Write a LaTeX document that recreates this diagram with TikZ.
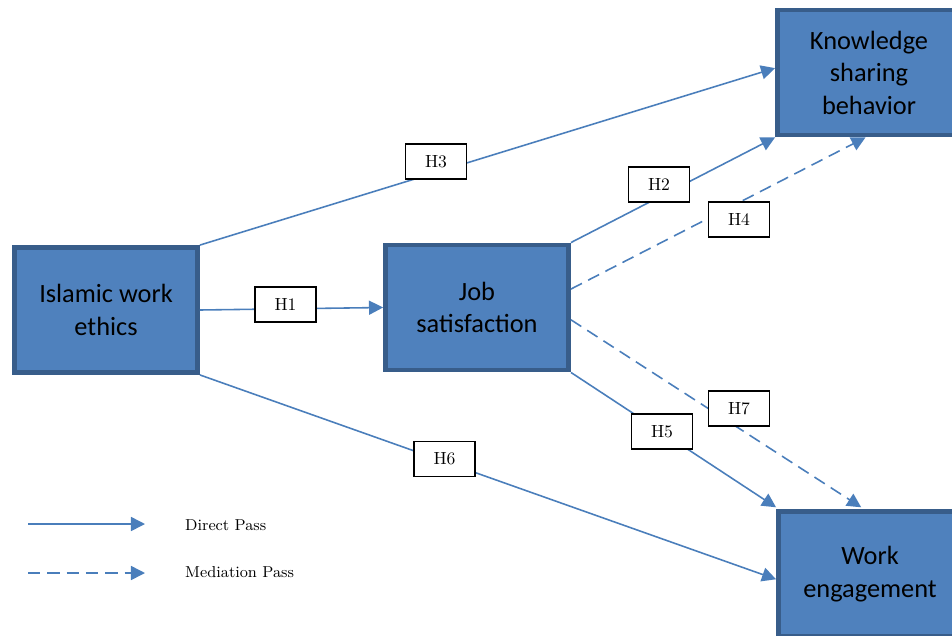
\documentclass[tikz,border=0pt]{standalone}
\usepackage{fontspec}
\usepackage{xcolor}
\usepackage{tikz}
\usetikzlibrary{arrows.meta,positioning,calc}
\newfontfamily\boxfont{Carlito}
\definecolor{boxfill}{HTML}{4F81BD}
\definecolor{boxedge}{HTML}{385D8A}
\definecolor{pathcol}{HTML}{4A7EBB}

\begin{document}
\begin{tikzpicture}[
  x=0.02cm, y=-0.02cm,
  construct/.style={
    draw=boxedge,
    line width=2.8pt,
    fill=boxfill,
    minimum width=3.66cm,
    minimum height=2.5cm,
    align=center,
    font=\boxfont\fontsize{15}{18.5}\selectfont
  },
  hyp/.style={
    draw=black,
    line width=0.7pt,
    fill=white,
    minimum width=1.22cm,
    minimum height=0.7cm,
    font=\fontsize{10}{12}\selectfont
  },
  direct/.style={
    draw=pathcol,
    line width=0.9pt,
    -{Triangle[length=8pt,width=8pt]}
  },
  mediation/.style={
    direct,
    dash pattern=on 7pt off 4pt
  },
  legendtext/.style={
    anchor=west,
    font=\fontsize{9}{11}\selectfont
  }
]
\useasboundingbox (0,0) rectangle (952,635);

%---------------------------------
% Constructs
%---------------------------------
\begin{scope}
\clip (0,0) rectangle (952,635);
\node[construct] (iwe) at (106,310)   {Islamic work\\ethics};
\node[construct] (js)  at (477,307.5) {Job\\satisfaction};
\node[construct] (ksb) at (869,72.5)  {Knowledge\\sharing\\behavior};
\node[construct] (we)  at (870,574)   {Work\\engagement};
\end{scope}

%---------------------------------
% Paths
%---------------------------------
\draw[direct] (iwe.north east) -- ([yshift=2.5pt]ksb.west);
\draw[direct] (iwe.east) -- (js.west);
\draw[direct] (iwe.south east) -- ([yshift=-3pt]we.west);
\draw[direct] (js.north east) -- (ksb.south west);
\draw[mediation] ([yshift=10.5pt]js.east) -- ([xshift=-2pt]ksb.south);
\draw[mediation] ([yshift=-7pt]js.east) -- ([xshift=-5pt,yshift=1pt]we.north);
\draw[direct] (js.south east) -- ([yshift=1pt]we.north west);

%---------------------------------
% Hypothesis labels
%---------------------------------
\node[hyp] (h1) at (285.5,304.5) {H1};
\node[hyp] (h3) at (436,161.5)   {H3};
\node[hyp] (h6) at (444.5,459)   {H6};
\node[hyp] (h2) at (659,184.5)   {H2};
\node[hyp] (h4) at (739,219.5)   {H4};
\node[hyp] (h7) at (739,408.5)   {H7};
\node[hyp] (h5) at (662,431.5)   {H5};

%---------------------------------
% Legend
%---------------------------------
\coordinate (ldirA) at (28,524);
\coordinate (ldirB) at (145,524);
\coordinate (lmedA) at (28,573);
\coordinate (lmedB) at (145,573);
\draw[direct] (ldirA) -- (ldirB);
\draw[mediation] (lmedA) -- (lmedB);
\node[legendtext] (ldir) at (179,525) {Direct Pass};
\node[legendtext] (lmed) at (179,572) {Mediation Pass};

\end{tikzpicture}
\end{document}
